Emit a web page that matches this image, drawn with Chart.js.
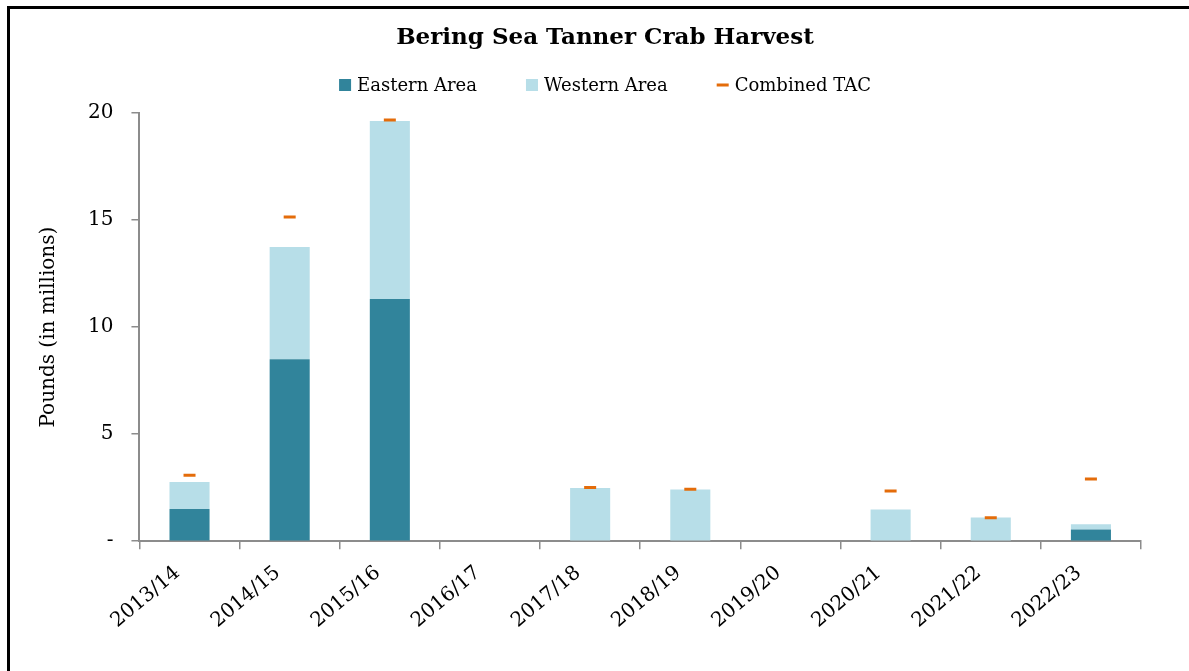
<!DOCTYPE html>
<html>
<head>
<meta charset="utf-8">
<script src="https://cdn.jsdelivr.net/npm/chart.js@4/dist/chart.umd.min.js"></script>
<style>
html,body{margin:0;padding:0;background:#fff;}
#wrap{position:relative;width:1189px;height:671px;overflow:hidden;}
#frame{position:absolute;left:7px;top:6px;width:1200px;height:700px;border-left:3px solid #000;border-top:3px solid #000;box-sizing:border-box;pointer-events:none;}
canvas{position:absolute;left:0;top:0;}
</style>
</head>
<body>
<div id="wrap">
<canvas id="c" width="1189" height="671"></canvas>
<div id="frame"></div>
</div>
<script>
const categories = ['2013/14','2014/15','2015/16','2016/17','2017/18','2018/19','2019/20','2020/21','2021/22','2022/23'];
const easternArea = [1.50, 8.50, 11.31, 0, 0, 0, 0, 0, 0, 0.55];
const westernArea = [1.26, 5.24, 8.32, 0, 2.48, 2.41, 0, 1.48, 1.11, 0.24];
const combinedTAC = [3.08, 15.14, 19.67, null, 2.51, 2.43, null, 2.34, 1.09, 2.90];
const yTicks = [0, 5, 10, 15, 20];
const chartTitle = 'Bering Sea Tanner Crab Harvest';

const FONT = "'DejaVu Serif', serif";
const axisGray = '#8c8c8c';
const EAST = '#31849B', WEST = '#B7DEE8', TAC = '#E46C0A';

// title and legend drawn on the canvas, centred like the reference
const headerPlugin = {
  id: 'header',
  afterDraw(chart) {
    const ctx = chart.ctx;
    const cx = 605;
    ctx.save();
    ctx.textBaseline = 'middle';
    ctx.textAlign = 'center';
    ctx.fillStyle = '#000';
    ctx.font = "bold 23px " + FONT;
    ctx.fillText(chartTitle, cx, 38);

    const items = chart.data.datasets.map(d => ({text: d.label, type: d.type, color: d.type === 'line' ? d.borderColor : d.backgroundColor}));
    ctx.font = "18px " + FONT;
    const box = 12, gapBT = 6, gap = 49;
    let total = 0;
    items.forEach((it, i) => { it.w = box + gapBT + ctx.measureText(it.text).width; total += it.w + (i ? gap : 0); });
    let x = cx - total / 2;
    const y = 85;
    items.forEach(it => {
      ctx.fillStyle = it.color;
      if (it.type === 'line') ctx.fillRect(x, y - 1.5, box, 3);
      else ctx.fillRect(x, y - box / 2, box, box);
      ctx.fillStyle = '#000';
      ctx.textAlign = 'left';
      ctx.fillText(it.text, x + box + gapBT, y + 1);
      x += it.w + gap;
    });
    ctx.restore();
  }
};

new Chart(document.getElementById('c'), {
  data: {
    labels: categories,
    datasets: [
      {type:'bar', label:'Eastern Area', data:easternArea, backgroundColor:EAST, stack:'h', barPercentage:0.4, categoryPercentage:1, order:2},
      {type:'bar', label:'Western Area', data:westernArea, backgroundColor:WEST, stack:'h', barPercentage:0.4, categoryPercentage:1, order:2},
      {type:'line', label:'Combined TAC', data:combinedTAC, stack:'t', showLine:false, pointStyle:'line', pointRadius:6, pointHoverRadius:6, borderColor:TAC, backgroundColor:TAC, borderWidth:3, pointBorderWidth:3, order:1}
    ]
  },
  plugins:[headerPlugin],
  options: {
    responsive:false,
    animation:false,
    layout:{padding:{left:26, right:48, top:113, bottom:26}},
    plugins:{
      tooltip:{enabled:false},
      legend:{display:false},
      title:{display:false}
    },
    scales:{
      x:{
        stacked:true,
        offset:true,
        grid:{display:true, drawOnChartArea:false, drawTicks:true, offset:true, tickLength:8, color:axisGray, lineWidth:1.5},
        border:{display:true, color:axisGray, width:2},
        ticks:{color:'#000', font:{family:FONT, size:20}, maxRotation:40, minRotation:40, padding:12, labelOffset:-12}
      },
      y:{
        stacked:true,
        min:0, max:20,
        afterBuildTicks:(s)=>{ s.ticks = yTicks.map(v=>({value:v})); },
        grid:{display:true, drawOnChartArea:false, drawTicks:true, tickLength:8, color:axisGray, lineWidth:1.5},
        border:{display:true, color:axisGray, width:2},
        ticks:{color:'#000', font:{family:FONT, size:20}, padding:18, callback:(v)=> v===0 ? '-' : v},
        title:{display:true, text:'Pounds (in millions)', color:'#000', font:{family:FONT, size:20}, padding:{top:11, bottom:9}}
      }
    }
  }
});
</script>
</body>
</html>
